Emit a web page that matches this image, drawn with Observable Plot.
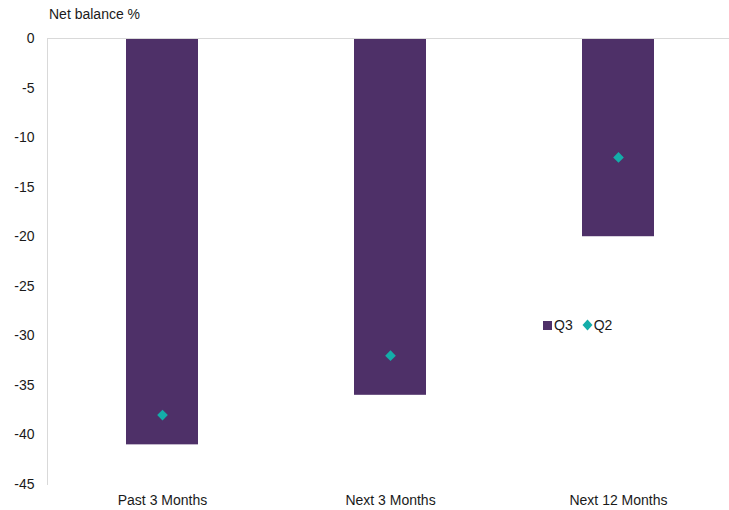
<!DOCTYPE html>
<html>
<head>
<meta charset="utf-8">
<script src="https://cdn.jsdelivr.net/npm/d3@7"></script>
<script src="https://cdn.jsdelivr.net/npm/@observablehq/plot@0.6"></script>
<style>
  html, body { margin: 0; padding: 0; background: #fff; }
  #wrap { position: relative; width: 729px; height: 510px; overflow: hidden; font-family: "Liberation Sans", Arial, sans-serif; }
  #chart svg { max-width: none !important; }
  #title { position: absolute; left: 49px; top: 6px; font-size: 14px; color: #1a1a1a; }
  #legend { position: absolute; left: 543px; top: 317px; font-size: 14px; color: #1a1a1a; display: flex; align-items: center; }
  #legend .sq { width: 9px; height: 9px; background: #4e3068; display: inline-block; margin-right: 2px; }
  #legend svg { margin-left: 9px; margin-right: 1px; }
</style>
</head>
<body>
<div id="wrap">
  <div id="chart"></div>
  <div id="title">Net balance %</div>
  <div id="legend"><span class="sq"></span><span>Q3</span><svg width="11" height="12" viewBox="-5.5 -6 11 12"><path d="M0,-5.5L5,0L0,5.5L-5,0Z" fill="#14ada9"/></svg><span>Q2</span></div>
</div>
<script>
const categories = ["Past 3 Months", "Next 3 Months", "Next 12 Months"];
const q3 = [-41, -36, -20];
const q2 = [-38, -32, -12];
const yTicks = [0, -5, -10, -15, -20, -25, -30, -35, -40, -45];

const rows = categories.map((c, i) => ({cat: c, q3: q3[i], q2: q2[i]}));

const chart = Plot.plot({
  width: 733,
  height: 510,
  marginLeft: 47,
  marginRight: 0,
  marginTop: 38,
  marginBottom: 26,
  style: {fontFamily: "Liberation Sans, Arial, sans-serif", fontSize: "14px", color: "#1a1a1a", background: "#fff", maxWidth: "none"},
  x: {domain: categories, paddingInner: 0.685, paddingOuter: 0.3425, align: 0.5},
  y: {domain: [-45, 0]},
  marks: [
    Plot.barY(rows, {x: "cat", y1: 0, y2: "q3", fill: "#4e3068"}),
    Plot.ruleY([0], {stroke: "#d9d9d9", strokeWidth: 1}),
    Plot.frame({anchor: "left", stroke: "#d9d9d9", strokeWidth: 1}),
    Plot.dot(rows, {x: "cat", y: "q2", symbol: "diamond2", r: 4.8, fill: "#14ada9", stroke: "none"}),
    Plot.axisY({ticks: yTicks, tickSize: 0, tickPadding: 13, tickFormat: d => String(d).replace("−", "-"), label: null, fontSize: 14}),
    Plot.axisX({anchor: "bottom", tickSize: 0, tickPadding: 11, label: null, fontSize: 14})
  ]
});
document.getElementById("chart").appendChild(chart);
</script>
</body>
</html>
